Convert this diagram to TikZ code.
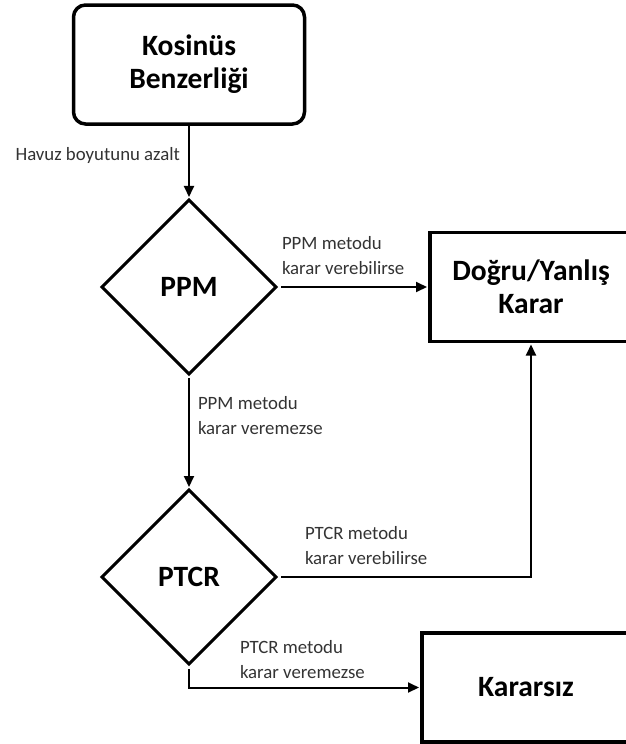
\documentclass[tikz,border=0pt]{standalone}
\usepackage{fontspec}
\setmainfont{Carlito}
\usetikzlibrary{arrows.meta,positioning,shapes.geometric}

\begin{document}
\begin{tikzpicture}[x=1pt, y=1pt, node distance=1cm,
    every node/.style={font=\fontsize{18.8}{25}\selectfont, text=black!80},
    kutu/.style={draw, line width=3.5pt, font=\fontsize{29.5}{33}\selectfont\bfseries, text=black, align=center, inner sep=0pt, outer sep=0pt},
    karo/.style={kutu, diamond, line width=3pt, minimum width=174pt, minimum height=174pt},
    ok/.style={line width=2pt, -{Triangle[length=11pt,width=10pt]}, shorten >=3pt},
    etiket/.style={align=left, inner sep=0pt}]
  \useasboundingbox (0,0) rectangle (626,-744);
  \node[kutu, rounded corners=12pt, minimum width=231pt, minimum height=119pt] (kosinus) at (189,-64.5) {Kosinüs\\Benzerliği};
  \node[karo, below=76pt of kosinus] (ppm) {PPM};
  \node[karo, below=116pt of ppm] (ptcr) {PTCR};
  \node[kutu, minimum width=202pt, minimum height=109pt, right=154pt of ppm] (karar) {Doğru/Yanlış\\Karar};
  \node[kutu, minimum width=208pt, minimum height=109pt] (kararsiz) at (526,-687.5) {Kararsız};
  \draw[ok] (kosinus) -- node[etiket, anchor=east, xshift=-8pt, yshift=7pt] {Havuz boyutunu azalt} (ppm);
  \draw[ok, shorten <=5pt] (ppm.east) -- node[etiket, pos=0, anchor=south west, xshift=5pt, yshift=11pt] {PPM metodu\\karar verebilirse} (karar.west);
  \draw[ok, shorten <=4pt] (ppm.south) -- node[etiket, pos=0, anchor=north west, xshift=8pt, yshift=-21pt] {PPM metodu\\karar veremezse} (ptcr.north);
  \draw[ok, shorten <=5pt] (ptcr.east) -- node[etiket, pos=0, anchor=south west, xshift=28pt, yshift=11pt] {PTCR metodu\\karar verebilirse} (ptcr.east -| karar.south) -- (karar.south);
  \draw[ok, shorten <=5pt] (ptcr.south) |- node[etiket, pos=0.5, anchor=south west, xshift=50pt, yshift=8pt] {PTCR metodu\\karar veremezse} (kararsiz.west);
\end{tikzpicture}
\end{document}
